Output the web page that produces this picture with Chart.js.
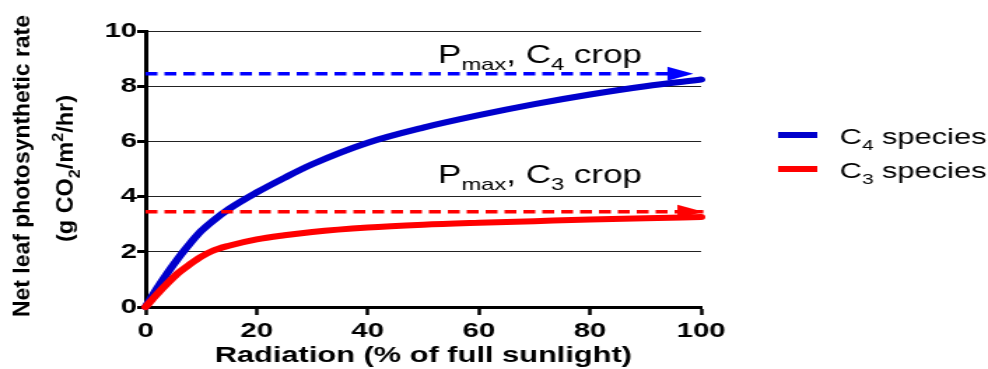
<!DOCTYPE html>
<html>
<head>
<meta charset="utf-8">
<script src="https://cdn.jsdelivr.net/npm/chart.js@4.4.1/dist/chart.umd.min.js"></script>
<style>
  html, body { margin: 0; padding: 0; background: #fff; overflow: hidden; }
  /* the source figure is stretched sideways, so the whole chart is drawn narrow and widened */
  #wrap { width: 706px; height: 369px; transform: scaleX(1.3994); transform-origin: 0 0; }
</style>
</head>
<body>
<div id="wrap"><canvas id="chart" width="706" height="369"></canvas></div>
<script>
// values
const radiation = [0, 2, 4, 6, 8, 10, 12, 15, 20, 25, 30, 40, 50, 60, 70, 80, 90, 100];
const c4Rate = [0, 0.65, 1.25, 1.8, 2.3, 2.75, 3.1, 3.55, 4.15, 4.68, 5.17, 5.95, 6.5, 6.95, 7.35, 7.7, 8.0, 8.24];
const c3Rate = [0, 0.45, 0.87, 1.25, 1.55, 1.82, 2.03, 2.22, 2.45, 2.6, 2.72, 2.88, 2.98, 3.05, 3.11, 3.17, 3.22, 3.26];
const pmaxC4 = 8.45;
const pmaxC3 = 3.45;
const pmaxC4Range = [0, 98.6];
const pmaxC3Range = [0, 100.4];

const BLUE = 'rgb(0,0,204)';
const BLUE_DASH = 'rgb(0,0,255)';
const RED = 'rgb(255,0,0)';
const FONT = '"Liberation Sans", Arial, Helvetica, sans-serif';

function toPoints(xs, ys) {
  return xs.map((x, i) => ({ x: x, y: ys[i] }));
}

// text pieces with sub/superscripts
function richWidth(ctx, parts, size, weight) {
  let w = 0;
  parts.forEach(p => {
    const s = p[1] === 'n' ? size : Math.round(size * 0.68);
    ctx.font = weight + ' ' + s + 'px ' + FONT;
    w += ctx.measureText(p[0]).width;
  });
  return w;
}
function drawRich(ctx, parts, x, y, size, weight, align) {
  let cx = x;
  if (align === 'center') cx = x - richWidth(ctx, parts, size, weight) / 2;
  ctx.textAlign = 'left';
  ctx.textBaseline = 'alphabetic';
  parts.forEach(p => {
    let s = size, dy = 0;
    if (p[1] === 'sub') { s = Math.round(size * 0.68); dy = size * 0.28; }
    if (p[1] === 'sup') { s = Math.round(size * 0.68); dy = -size * 0.42; }
    ctx.font = weight + ' ' + s + 'px ' + FONT;
    ctx.fillText(p[0], cx, y + dy);
    cx += ctx.measureText(p[0]).width;
  });
}

// rotated axis title line, fitted to a given length
function drawVertical(ctx, parts, cx, cy, size, length) {
  ctx.save();
  ctx.translate(cx, cy);
  ctx.rotate(-Math.PI / 2);
  const w = richWidth(ctx, parts, size, 'bold');
  ctx.scale(length / w, 1);
  drawRich(ctx, parts, -w / 2, size * 0.35, size, 'bold', 'left');
  ctx.restore();
}

const extras = {
  id: 'extras',
  afterDatasetsDraw(chart) {
    const ctx = chart.ctx;
    // arrow heads on the Pmax lines
    chart.data.datasets.forEach((ds, i) => {
      if (!ds.arrow) return;
      const pts = chart.getDatasetMeta(i).data;
      const p = pts[pts.length - 1];
      ctx.save();
      ctx.fillStyle = ds.borderColor;
      ctx.beginPath();
      ctx.moveTo(p.x, p.y);
      ctx.lineTo(p.x - 18.5, p.y - 7);
      ctx.lineTo(p.x - 18.5, p.y + 7);
      ctx.closePath();
      ctx.fill();
      ctx.restore();
    });
  },
  afterDraw(chart) {
    const ctx = chart.ctx;
    const xs = chart.scales.x, ys = chart.scales.y;
    ctx.save();
    ctx.fillStyle = '#000';

    // Pmax labels
    drawRich(ctx, [['P', 'n'], ['max', 'sub'], [', C', 'n'], ['4', 'sub'], [' crop', 'n']],
      xs.getPixelForValue(71), ys.getPixelForValue(8.83), 25, 'normal', 'center');
    drawRich(ctx, [['P', 'n'], ['max', 'sub'], [', C', 'n'], ['3', 'sub'], [' crop', 'n']],
      xs.getPixelForValue(71), ys.getPixelForValue(4.48), 25, 'normal', 'center');

    // y axis title, two lines
    drawVertical(ctx, [['Net leaf photosynthetic rate', 'n']], 15.4, 166, 16.6, 302);
    drawVertical(ctx, [['(g CO', 'n'], ['2', 'sub'], ['/m', 'n'], ['2', 'sup'], ['/hr)', 'n']], 46.5, 168.5, 16, 147);

    // legend
    const items = [
      { color: BLUE, y: 135, parts: [['C', 'n'], ['4', 'sub'], [' species', 'n']] },
      { color: RED, y: 169, parts: [['C', 'n'], ['3', 'sub'], [' species', 'n']] }
    ];
    items.forEach(it => {
      ctx.strokeStyle = it.color;
      ctx.lineWidth = 6;
      ctx.beginPath();
      ctx.moveTo(556, it.y);
      ctx.lineTo(584, it.y);
      ctx.stroke();
      ctx.fillStyle = '#000';
      drawRich(ctx, it.parts, 600, it.y + 8.5, 22, 'normal', 'left');
    });
    ctx.restore();
  }
};

const ctx = document.getElementById('chart').getContext('2d');
const chart = new Chart(ctx, {
  type: 'scatter',
  data: {
    datasets: [
      {
        label: 'Pmax, C4 crop',
        data: toPoints(pmaxC4Range, [pmaxC4, pmaxC4]),
        showLine: true,
        borderColor: BLUE_DASH,
        borderWidth: 3.5,
        borderDash: [8.5, 5],
        pointRadius: 0,
        arrow: true,
        clip: false
      },
      {
        label: 'Pmax, C3 crop',
        data: toPoints(pmaxC3Range, [pmaxC3, pmaxC3]),
        showLine: true,
        borderColor: RED,
        borderWidth: 3.5,
        borderDash: [8.5, 5],
        pointRadius: 0,
        arrow: true,
        clip: false
      },
      {
        label: 'C3 species',
        data: toPoints(radiation, c3Rate),
        showLine: true,
        borderColor: RED,
        borderWidth: 6,
        borderCapStyle: 'round',
        cubicInterpolationMode: 'monotone',
        pointRadius: 0,
        clip: false
      },
      {
        label: 'C4 species',
        data: toPoints(radiation, c4Rate),
        showLine: true,
        borderColor: BLUE,
        borderWidth: 6,
        borderCapStyle: 'round',
        cubicInterpolationMode: 'monotone',
        pointRadius: 0,
        clip: false
      }
    ]
  },
  options: {
    responsive: false,
    animation: false,
    layout: { padding: { top: 31, right: 205, left: 0, bottom: 0 } },
    plugins: { legend: { display: false }, tooltip: { enabled: false } },
    scales: {
      x: {
        type: 'linear',
        min: 0,
        max: 100,
        ticks: { stepSize: 20, color: '#000', font: { family: FONT, size: 21, weight: 'bold' }, padding: 4 },
        grid: { drawOnChartArea: false, tickLength: 8, tickWidth: 2.5, tickColor: '#000' },
        border: { width: 3, color: '#000' },
        title: {
          display: true,
          text: 'Radiation (% of full sunlight)',
          color: '#000',
          font: { family: FONT, size: 22, weight: 'bold' },
          padding: { top: 0, bottom: 0 }
        },
        afterFit(s) { s.height = 62; }
      },
      y: {
        min: 0,
        max: 10,
        ticks: { stepSize: 2, color: '#000', font: { family: FONT, size: 21, weight: 'bold' }, padding: 0 },
        grid: { color: '#222', lineWidth: 1, tickLength: 6, tickWidth: 3, tickColor: '#000' },
        border: { width: 3, color: '#000' },
        afterFit(s) { s.width = 104; }
      }
    }
  },
  plugins: [extras]
});
</script>
</body>
</html>
